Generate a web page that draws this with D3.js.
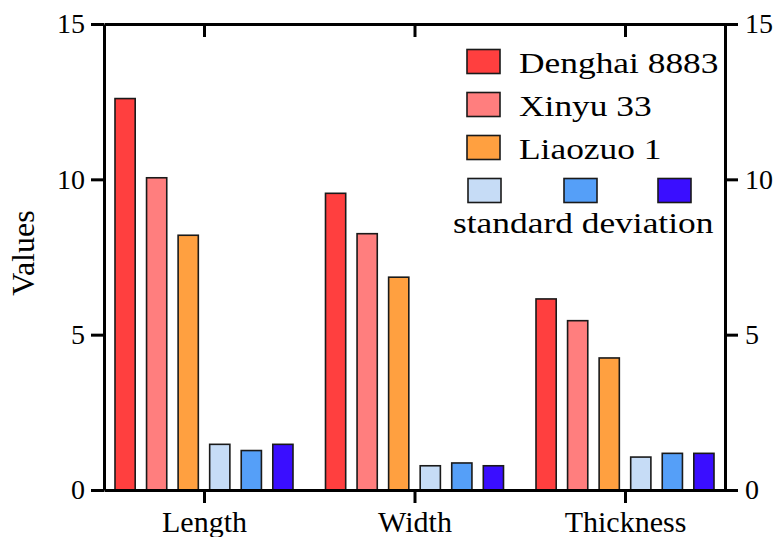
<!DOCTYPE html>
<html>
<head>
<meta charset="utf-8">
<script src="https://cdn.jsdelivr.net/npm/d3@7"></script>
<style>
  html, body { margin: 0; padding: 0; background: #fff; }
  svg { display: block; }
</style>
</head>
<body>
<svg id="chart" width="777" height="537"></svg>
<script>
// ---- data ----
const categories = ["Length", "Width", "Thickness"];
const seriesNames = ["Denghai 8883", "Xinyu 33", "Liaozuo 1", "SD Denghai 8883", "SD Xinyu 33", "SD Liaozuo 1"];
const denghai = [12.6, 9.55, 6.15];
const xinyu = [10.05, 8.25, 5.45];
const liaozuo = [8.2, 6.85, 4.25];
const sdDenghai = [1.47, 0.78, 1.06];
const sdXinyu = [1.27, 0.87, 1.18];
const sdLiaozuo = [1.47, 0.78, 1.18];
const yTicks = [0, 5, 10, 15];
const seriesColors = ["#FF3F3F", "#FF7E7E", "#FFA040", "#C6DCF6", "#559FF8", "#3A0EFF"];
const legendLabels = ["Denghai 8883", "Xinyu 33", "Liaozuo 1"];
const sdLabel = "standard deviation";
const yTitle = "Values";

const seriesValues = [denghai, xinyu, liaozuo, sdDenghai, sdXinyu, sdLiaozuo];

// ---- layout ----
const FONT = "Liberation Serif";
const svg = d3.select("#chart");
const mLeft = 104, mRight = 725, mTop = 24, mBottom = 490;

const x = d3.scalePoint().domain(categories).range([mLeft, mRight]).padding(0.475);
const xi = d3.scaleBand().domain(seriesNames).range([-89, 89]).paddingInner(0.36).paddingOuter(0);
const y = d3.scaleLinear().domain([0, 15]).range([mBottom, mTop]);

// bars
const rows = [];
categories.forEach((c, ci) => {
  seriesNames.forEach((s, si) => {
    rows.push({ cat: c, ser: s, value: seriesValues[si][ci], color: seriesColors[si] });
  });
});
svg.append("g").selectAll("rect").data(rows).join("rect")
  .attr("x", d => x(d.cat) + xi(d.ser))
  .attr("y", d => y(d.value))
  .attr("width", xi.bandwidth())
  .attr("height", d => y(0) - y(d.value))
  .attr("fill", d => d.color)
  .attr("stroke", "#1a1a1a")
  .attr("stroke-width", 1.6);

// axes
function styleAxis(g, fontSize) {
  g.attr("font-family", FONT).attr("font-size", fontSize);
  g.selectAll("path.domain").attr("stroke", "#000").attr("stroke-width", 3);
  g.selectAll(".tick line").attr("stroke", "#000").attr("stroke-width", 3);
  g.selectAll(".tick text").attr("fill", "#000").attr("font-family", FONT).attr("font-size", fontSize);
}

const gl = svg.append("g").attr("transform", `translate(${mLeft},0)`)
  .call(d3.axisLeft(y).tickValues(yTicks).tickSize(13).tickSizeOuter(0).tickPadding(6));
styleAxis(gl, 28);

const gr = svg.append("g").attr("transform", `translate(${mRight},0)`)
  .call(d3.axisRight(y).tickValues(yTicks).tickSize(13).tickSizeOuter(0).tickPadding(7));
styleAxis(gr, 28);

const gb = svg.append("g").attr("transform", `translate(0,${mBottom})`)
  .call(d3.axisBottom(x).tickSize(13).tickSizeOuter(0).tickPadding(8));
styleAxis(gb, 30);

const gt = svg.append("g").attr("transform", `translate(0,${mTop})`)
  .call(d3.axisTop(x).tickSize(-13).tickSizeOuter(0).tickFormat(""));
styleAxis(gt, 30);

// y title
svg.append("text")
  .attr("transform", `translate(34,253) rotate(-90)`)
  .attr("text-anchor", "middle")
  .attr("font-family", FONT)
  .attr("font-size", 32)
  .attr("fill", "#000")
  .text(yTitle);

// legend (text is horizontally stretched in the reference)
const stretch = 1.18;
const lg = svg.append("g");
const legendRowsY = [49.5, 92.5, 135.5];
legendLabels.forEach((lab, i) => {
  lg.append("rect").attr("x", 467).attr("y", legendRowsY[i]).attr("width", 33).attr("height", 24)
    .attr("fill", seriesColors[i]).attr("stroke", "#1a1a1a").attr("stroke-width", 1.6);
  lg.append("text").attr("transform", `translate(519,${legendRowsY[i] + 23.5}) scale(${stretch},1)`)
    .attr("font-family", FONT).attr("font-size", 30).attr("fill", "#000").text(lab);
});
const sdX = [468, 564, 658];
sdX.forEach((sx, i) => {
  lg.append("rect").attr("x", sx).attr("y", 178.5).attr("width", 33).attr("height", 24)
    .attr("fill", seriesColors[3 + i]).attr("stroke", "#1a1a1a").attr("stroke-width", 1.6);
});
lg.append("text").attr("transform", `translate(453,233) scale(${stretch},1)`)
  .attr("font-family", FONT).attr("font-size", 30).attr("fill", "#000").text(sdLabel);
</script>
</body>
</html>
